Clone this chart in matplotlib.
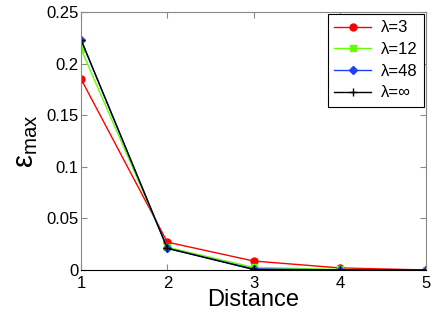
import matplotlib
matplotlib.use("Agg")
import matplotlib.pyplot as plt

distance = [1, 2, 3, 4, 5]
eps_l3 = [0.185, 0.027, 0.0087, 0.002, 0.0]
eps_l12 = [0.214, 0.022, 0.0025, 0.0005, 0.0]
eps_l48 = [0.223, 0.021, 0.001, 0.0, 0.0]
eps_inf = [0.223, 0.021, 0.0005, 0.0, 0.0]
labels = ["λ=3", "λ=12", "λ=48", "λ=∞"]

plt.rcParams["font.family"] = ["Liberation Sans", "DejaVu Sans"]

fig = plt.figure(figsize=(4.36, 3.18), dpi=100)
ax = fig.add_axes([0.186, 0.151, 0.791, 0.811])

ax.plot(distance, eps_l3, color="#ff0000", marker="o", markersize=5, lw=1, label=labels[0])
ax.plot(distance, eps_l12, color="#66ff00", marker="s", markersize=4.5, lw=1, label=labels[1])
ax.plot(distance, eps_l48, color="#1f3fff", marker="D", markersize=4.5, lw=1, label=labels[2])
ax.plot(distance, eps_inf, color="black", marker="+", markersize=6, lw=1, label=labels[3])

ax.set_xlim(1, 5)
ax.set_ylim(0, 0.25)
ax.set_xticks([1, 2, 3, 4, 5])
ax.set_yticks([0, 0.05, 0.1, 0.15, 0.2, 0.25])
ax.set_yticklabels(["0", "0.05", "0.1", "0.15", "0.2", "0.25"])
ax.tick_params(direction="in", labelsize=12, length=4, color="#888888", top=True, right=True, pad=2)
ax.tick_params(axis="x", pad=4)
for s in ax.spines.values():
    s.set_color("#888888")
ax.spines["bottom"].set_color("black")

ax.set_xlabel("Distance", fontsize=17, labelpad=-1)
ax.set_ylabel(r"$\mathregular{\epsilon_{max}}$", fontsize=21, labelpad=4)

leg = ax.legend(loc="upper right", fontsize=12, fancybox=False, framealpha=1,
                edgecolor="black", handlelength=2.2, borderaxespad=0.1,
                labelspacing=0.4, handletextpad=0.6, borderpad=0.4)
leg.get_frame().set_linewidth(0.8)

fig.savefig("out.png", dpi=100)
